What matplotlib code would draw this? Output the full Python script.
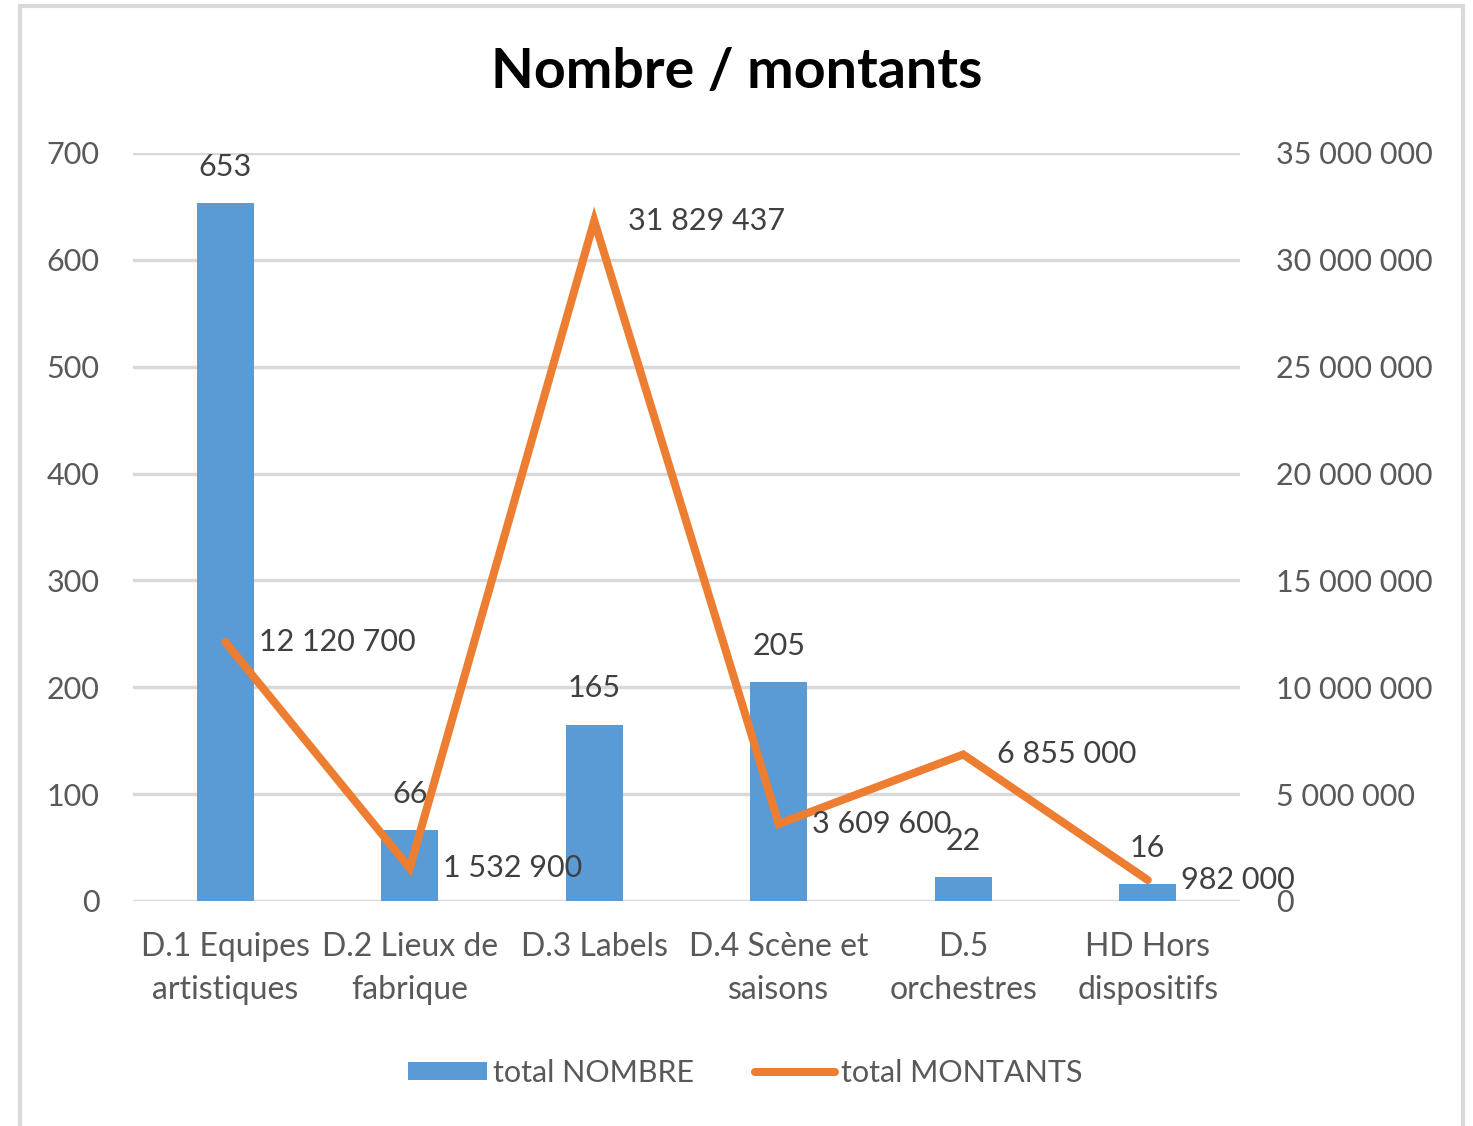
import matplotlib
matplotlib.use("Agg")
import matplotlib.pyplot as plt
from matplotlib.patches import Rectangle
from matplotlib.ticker import FuncFormatter

categories = ["D.1 Equipes\nartistiques", "D.2 Lieux de\nfabrique", "D.3 Labels",
              "D.4 Scène et\nsaisons", "D.5\norchestres", "HD Hors\ndispositifs"]
total_nombre = [653, 66, 165, 205, 22, 16]
total_montants = [12120700, 1532900, 31829437, 3609600, 6855000, 982000]

BLUE = "#5B9BD5"
ORANGE = "#ED7D31"
GREY = "#595959"
GRID = "#D9D9D9"

plt.rcParams["font.family"] = ["Lato", "DejaVu Sans"]


def spaced(v):
    return f"{int(v):,}".replace(",", " ")


fig = plt.figure(figsize=(14.73, 11.26), dpi=100)
fig.patches.append(Rectangle((20 / 1473, -0.01), 1443 / 1473, 1.005, transform=fig.transFigure,
                             fill=False, edgecolor="#D9D9D9", linewidth=3))

ax = fig.add_axes([133 / 1473, 1 - 901 / 1126, 1107 / 1473, 748 / 1126])
x = list(range(len(categories)))
bars = ax.bar(x, total_nombre, width=0.31, color=BLUE, zorder=2, label="total NOMBRE")
ax.set_xlim(-0.5, len(categories) - 0.5)
ax.set_ylim(0, 700)
ax.set_yticks(range(0, 701, 100))
ax.grid(axis="y", color=GRID, linewidth=2.5, zorder=0)
ax.set_axisbelow(True)
for s in ax.spines.values():
    s.set_visible(False)
ax.tick_params(axis="both", length=0, labelsize=22, labelcolor=GREY)
ax.tick_params(axis="y", pad=24)
ax.tick_params(axis="x", pad=22)
ax.set_xticks(x)
ax.set_xticklabels(categories, fontsize=23, linespacing=1.55)
for xi, v in zip(x, total_nombre):
    ax.annotate(str(v), (xi, v), xytext=(0, 16), textcoords="offset points",
                ha="center", va="bottom", fontsize=22, color="#404040")

ax2 = ax.twinx()
ax2.plot(x, total_montants, color=ORANGE, linewidth=5.8, solid_capstyle="round",
         solid_joinstyle="miter", zorder=3, label="total MONTANTS")
ax2.set_ylim(0, 35000000)
ax2.set_yticks(range(0, 35000001, 5000000))
ax2.yaxis.set_major_formatter(FuncFormatter(lambda v, _: spaced(v)))
for s in ax2.spines.values():
    s.set_visible(False)
ax2.tick_params(axis="y", length=0, labelsize=22, labelcolor=GREY, pad=26)
for xi, v in zip(x, total_montants):
    ax2.annotate(spaced(v), (xi, v), xytext=(24, 0), textcoords="offset points",
                 ha="left", va="center", fontsize=22, color="#404040")

fig.text(0.5, 1 - 72 / 1126, "Nombre / montants", ha="center", va="center",
         fontsize=40, fontweight="bold", color="black")

handles = [bars, ax2.get_lines()[0]]
fig.legend(handles, ["total NOMBRE", "total MONTANTS"], loc="center",
           bbox_to_anchor=(745 / 1473, 1 - 1073 / 1126), ncol=2, frameon=False,
           fontsize=22, labelcolor=GREY, handlelength=2.6, handletextpad=0.2,
           columnspacing=2.0, handleheight=0.5)

fig.savefig("out.png", dpi=100)
